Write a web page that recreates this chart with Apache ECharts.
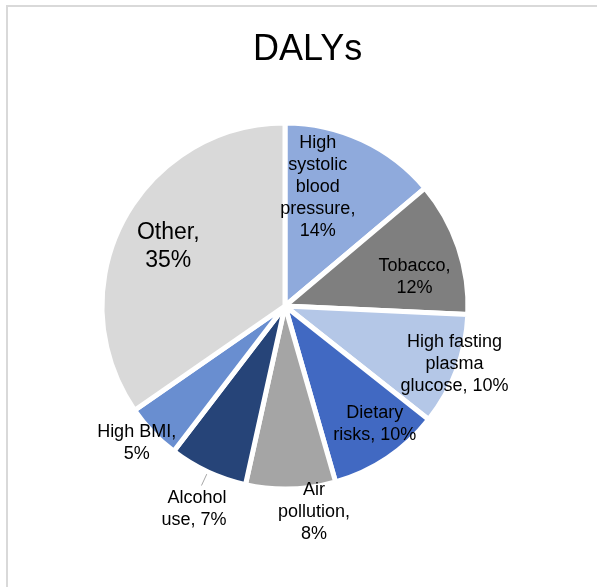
<!DOCTYPE html>
<html>
<head>
<meta charset="utf-8">
<script src="https://cdn.jsdelivr.net/npm/echarts@6/dist/echarts.min.js"></script>
<style>
  html, body { margin: 0; padding: 0; background: #ffffff; }
  #chart { width: 597px; height: 587px; }
</style>
</head>
<body>
<div id="chart"></div>
<script>
// Share of DALYs by risk factor (%), clockwise from 12 o'clock
const categories = [
  'High\nsystolic\nblood\npressure',
  'Tobacco',
  'High fasting\nplasma\nglucose',
  'Dietary\nrisks',
  'Air\npollution',
  'Alcohol\nuse',
  'High BMI',
  'Other'
];
const shares = [14, 12, 10, 10, 8, 7, 5, 35];
// whether the percentage sits on its own line under the name
const valueOnOwnLine = [true, true, false, false, true, false, true, true];

const sliceColors = ['#8FAADC', '#7F7F7F', '#B4C7E7', '#4169C2', '#A5A5A5', '#264478', '#698ED0', '#D9D9D9'];
// label nudges relative to each slice's default label anchor
const labelShift = [
  [-7, -33], [40, 1], [81, 25], [37, 40], [26, 112], [25, 24], [-80, 72], [-33, -16]
];

const chart = echarts.init(document.getElementById('chart'), null, { renderer: 'canvas' });

const data = categories.map((name, i) => {
  const item = {
    name: name,
    value: shares[i],
    itemStyle: { color: sliceColors[i] }
  };
  if (name === 'Other') {
    item.label = { fontSize: 23, lineHeight: 28 };
  }
  if (name === 'Alcohol\nuse') {
    item.label = { position: 'outside', alignTo: 'none', distanceToLabelLine: 0 };
    item.labelLine = { show: true, length: 15, length2: 0, lineStyle: { color: '#A6A6A6', width: 1 } };
  }
  return item;
});

chart.setOption({
  animation: false,
  title: {
    text: 'DALYs',
    left: 248,
    top: 27,
    textStyle: { fontFamily: 'Liberation Sans, Arial, sans-serif', fontSize: 36, fontWeight: 'normal', color: '#000000' }
  },
  graphic: [{
    type: 'rect',
    shape: { x: 7, y: 6, width: 700, height: 700 },
    style: { fill: 'none', stroke: '#D9D9D9', lineWidth: 2 },
    silent: true,
    z: -10
  }],
  series: [{
    type: 'pie',
    center: [285, 306],
    radius: [0, 183],
    startAngle: 90,
    clockwise: true,
    avoidLabelOverlap: false,
    minShowLabelAngle: 0,
    itemStyle: { borderColor: '#ffffff', borderWidth: 5 },
    label: {
      show: true,
      position: 'inside',
      formatter: p => p.name + (valueOnOwnLine[p.dataIndex] ? ',\n' : ', ') + p.value + '%',
      color: '#000000',
      fontFamily: 'Liberation Sans, Arial, sans-serif',
      fontSize: 18,
      lineHeight: 22,
      align: 'center'
    },
    labelLine: { show: false },
    labelLayout: params => {
      const s = labelShift[params.dataIndex];
      return { dx: s[0], dy: s[1] };
    },
    emphasis: { disabled: true },
    data: data
  }]
});
</script>
</body>
</html>
